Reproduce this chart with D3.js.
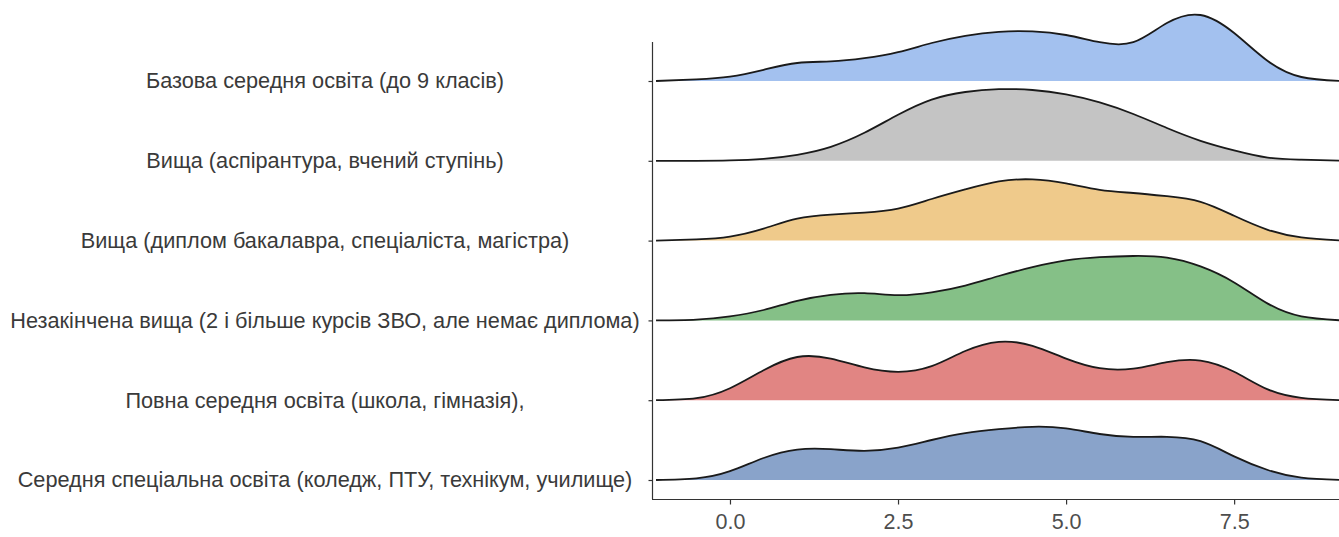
<!DOCTYPE html>
<html>
<head>
<meta charset="utf-8">
<script src="https://cdn.jsdelivr.net/npm/d3@7"></script>
<style>
  html, body { margin: 0; padding: 0; background: #ffffff; }
  svg { display: block; }
  text { font-family: "Liberation Sans", Arial, sans-serif; }
</style>
</head>
<body>
<svg id="chart" width="1339" height="537"></svg>
<script>
// Education groups, top to bottom
const categories = [
  "Базова середня освіта (до 9 класів)",
  "Вища (аспірантура, вчений ступінь)",
  "Вища (диплом бакалавра, спеціаліста, магістра)",
  "Незакінчена вища (2 і більше курсів ЗВО, але немає диплома)",
  "Повна середня освіта (школа, гімназія),",
  "Середня спеціальна освіта (коледж, ПТУ, технікум, училище)"
];

// Evaluation points of the density estimates
const gridX = [-1.1, -0.5, 0, 0.5, 1, 1.5, 2, 2.5, 3, 3.5, 4, 4.5, 5, 5.5, 6, 6.5, 7, 7.5, 8, 8.5, 9.1];

// Density values per group at gridX
const densBazova   = [0.000, 0.004, 0.011, 0.028, 0.045, 0.049, 0.057, 0.072, 0.095, 0.113, 0.123, 0.124, 0.115, 0.097, 0.097, 0.145, 0.165, 0.120, 0.050, 0.010, 0.000];
const densAspir    = [0.000, 0.000, 0.001, 0.005, 0.015, 0.035, 0.070, 0.115, 0.153, 0.172, 0.179, 0.177, 0.166, 0.146, 0.117, 0.082, 0.050, 0.026, 0.008, 0.003, 0.000];
const densDyplom   = [0.000, 0.003, 0.010, 0.030, 0.055, 0.065, 0.070, 0.080, 0.104, 0.128, 0.148, 0.153, 0.143, 0.127, 0.119, 0.111, 0.097, 0.062, 0.027, 0.008, 0.000];
const densNezak    = [0.000, 0.002, 0.010, 0.026, 0.049, 0.064, 0.068, 0.063, 0.070, 0.087, 0.111, 0.133, 0.150, 0.158, 0.161, 0.157, 0.135, 0.095, 0.042, 0.010, 0.000];
const densPovna    = [0.000, 0.005, 0.030, 0.075, 0.108, 0.104, 0.082, 0.071, 0.085, 0.123, 0.146, 0.136, 0.104, 0.080, 0.079, 0.095, 0.099, 0.071, 0.027, 0.006, 0.000];
const densSpec     = [0.000, 0.004, 0.022, 0.055, 0.076, 0.077, 0.073, 0.081, 0.100, 0.117, 0.127, 0.133, 0.129, 0.115, 0.108, 0.108, 0.097, 0.059, 0.025, 0.006, 0.000];

const seriesDens = [densBazova, densAspir, densDyplom, densNezak, densPovna, densSpec];
const fillColors = ["#a3c1ef", "#c4c4c4", "#efca8b", "#85c087", "#e18583", "#89a3ca"];

const xTicks = [0, 2.5, 5, 7.5];

const svg = d3.select("#chart");

const plot = { left: 652, right: 1339, top: 42, bottom: 499 };
const labelCenterX = 325;
const fontStack = "\"Liberation Sans\", Arial, sans-serif";

const x = d3.scaleLinear().domain([-1.16, 9.06]).range([plot.left, plot.right]);
const y = d3.scalePoint().domain(categories).range([81, 480]);
const h = d3.scaleLinear().domain([0, 0.2]).range([0, 80]);

// Ridges: upper rows first so lower rows overlap them
categories.forEach((cat, i) => {
  const base = y(cat);
  const pts = gridX.map((gx, j) => [gx, seriesDens[i][j]]);
  const area = d3.area()
    .x(d => x(d[0]))
    .y0(base)
    .y1(d => base - h(d[1]))
    .curve(d3.curveNatural);
  const line = d3.line()
    .x(d => x(d[0]))
    .y(d => base - h(d[1]))
    .curve(d3.curveNatural);
  const g = svg.append("g").attr("class", "ridge");
  g.append("path").attr("d", area(pts)).attr("fill", fillColors[i]).attr("stroke", "none");
  g.append("path").attr("d", line(pts)).attr("fill", "none")
    .attr("stroke", "#1a1a1a").attr("stroke-width", 1.8).attr("stroke-linejoin", "round");
});

// Axis lines
svg.append("line")
  .attr("x1", plot.left + 0.5).attr("x2", plot.left + 0.5)
  .attr("y1", plot.top).attr("y2", plot.bottom)
  .attr("stroke", "#333").attr("stroke-width", 1.2);
svg.append("line")
  .attr("x1", plot.left).attr("x2", plot.right)
  .attr("y1", plot.bottom + 0.5).attr("y2", plot.bottom + 0.5)
  .attr("stroke", "#333").attr("stroke-width", 1.2);

// Y axis ticks; category labels centred in the left margin
const yAxis = d3.axisLeft(y).tickSize(4).tickPadding(7);
const gy = svg.append("g").attr("transform", `translate(${plot.left + 0.5},0)`).call(yAxis);
gy.select(".domain").remove();
gy.selectAll(".tick line").attr("stroke", "#333").attr("stroke-width", 1.2);
gy.selectAll(".tick text")
  .attr("x", labelCenterX - plot.left - 0.5)
  .attr("text-anchor", "middle")
  .attr("fill", "#3a3a3a").style("font-size", "21.7px")
  .style("font-family", fontStack);

// X axis ticks and labels
const xAxis = d3.axisBottom(x).tickValues(xTicks).tickFormat(d3.format(".1f")).tickSize(5).tickPadding(9);
const gx = svg.append("g").attr("transform", `translate(0,${plot.bottom + 0.5})`).call(xAxis);
gx.select(".domain").remove();
gx.selectAll(".tick line").attr("stroke", "#333").attr("stroke-width", 1.2);
gx.selectAll(".tick text").attr("fill", "#4d4d4d").style("font-size", "21.5px")
  .style("font-family", fontStack);
</script>
</body>
</html>
